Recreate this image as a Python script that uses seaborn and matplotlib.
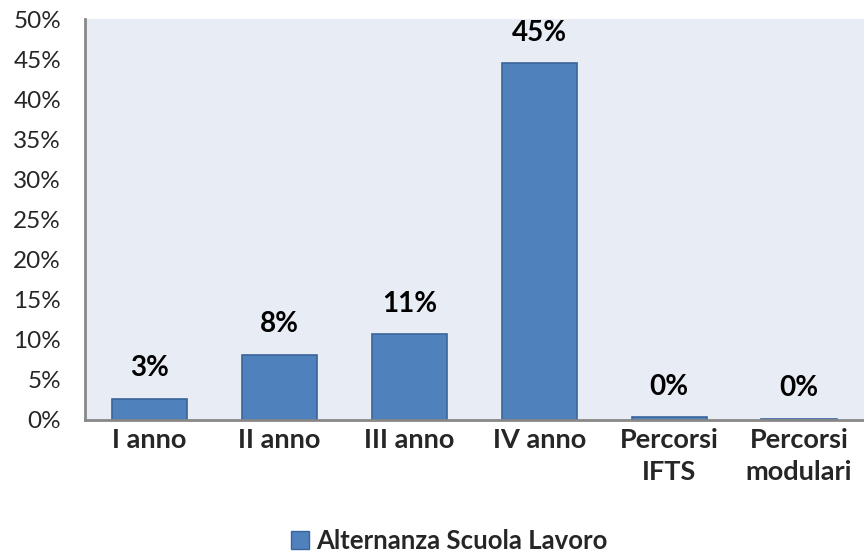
import numpy as np
import pandas as pd
import seaborn as sns
from matplotlib import pyplot as plt
from matplotlib.ticker import PercentFormatter
from matplotlib.patches import Patch

categories = ["I anno", "II anno", "III anno", "IV anno", "Percorsi\nIFTS", "Percorsi\nmodulari"]
values = [2.6, 8.1, 10.7, 44.5, 0.3, 0.1]
labels = ["3%", "8%", "11%", "45%", "0%", "0%"]
series_name = "Alternanza Scuola Lavoro"

bar_color = "#4F81BD"
edge_color = "#3A659A"
bg_color = "#E8ECF4"


def main():
    sns.set_theme(style="white")
    plt.rcParams["font.family"] = ["Lato", "DejaVu Sans"]

    df = pd.DataFrame({"cat": categories, "val": values})

    fig = plt.figure(figsize=(8.64, 5.51), dpi=100)
    ax = fig.add_axes([0.098, 0.238, 0.902, 0.727])
    ax.set_facecolor(bg_color)

    sns.barplot(data=df, x="cat", y="val", color=bar_color, width=0.58,
                edgecolor=edge_color, linewidth=1.2, saturation=1, ax=ax)

    ax.set_ylim(0, 50)
    ax.set_yticks(np.arange(0, 51, 5))
    ax.yaxis.set_major_formatter(PercentFormatter(decimals=0))
    ax.tick_params(axis="y", labelsize=17.5, pad=17, length=0)
    ax.tick_params(axis="x", labelsize=19.5, pad=6, length=0)
    for t in ax.get_xticklabels():
        t.set_fontweight("bold")
        t.set_linespacing(1.4)
    ax.set_xlabel("")
    ax.set_ylabel("")

    for s in ["top", "right"]:
        ax.spines[s].set_visible(False)
    ax.spines["left"].set_color("#888888")
    ax.spines["left"].set_linewidth(2)
    ax.spines["bottom"].set_color("#888888")
    ax.spines["bottom"].set_linewidth(2)

    for i, (v, lab) in enumerate(zip(values, labels)):
        ax.text(i, v + 2.2, lab, ha="center", va="bottom",
                fontsize=20, fontweight="bold", color="black")

    handle = Patch(facecolor=bar_color, edgecolor=edge_color, label=series_name)
    fig.legend(handles=[handle], loc="lower center", bbox_to_anchor=(0.52, -0.045),
               frameon=False, prop={"size": 18.5, "weight": "bold"},
               handlelength=0.7, handleheight=0.7, handletextpad=0.3)

    fig.savefig("out.png", dpi=100)
    plt.close(fig)


if __name__ == '__main__':
    main()
